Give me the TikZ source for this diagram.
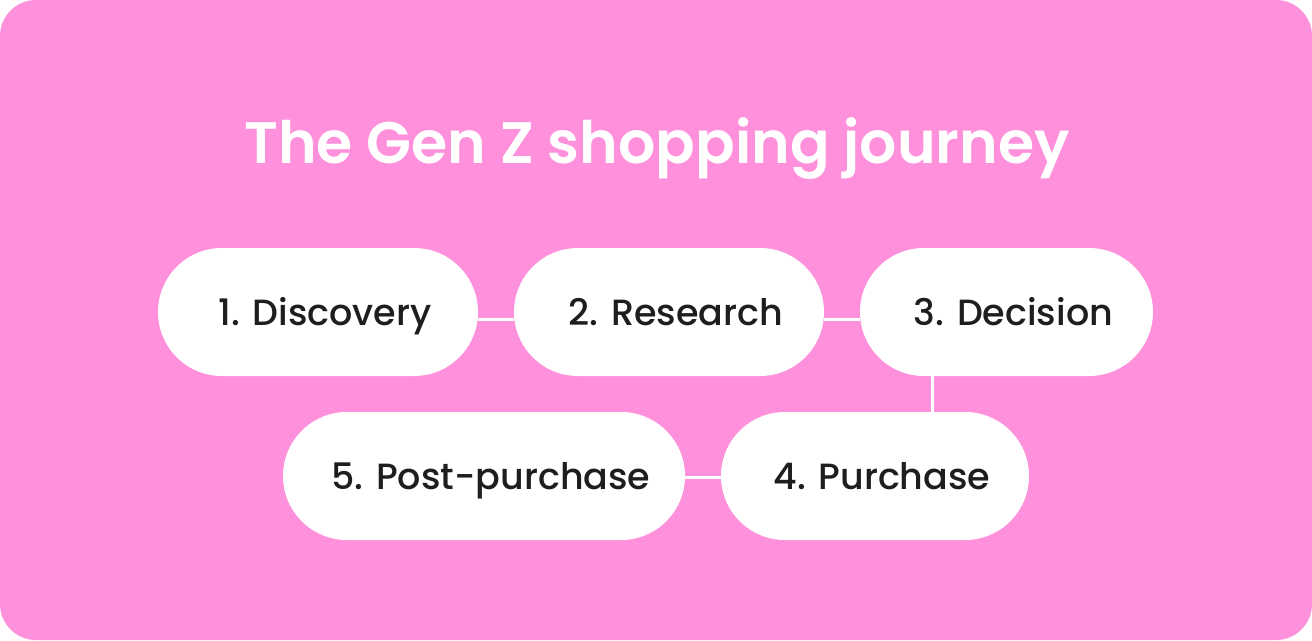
\documentclass[tikz,border=0pt]{standalone}
\usepackage{fontspec}
\setmainfont{Poppins}
\newfontfamily\nodefont{Poppins Medium}
\newfontfamily\titlefont{Poppins SemiBold}
\definecolor{bgpink}{HTML}{FF90DC}
\definecolor{ink}{HTML}{1E1E1E}
\begin{document}
\begin{tikzpicture}[x=1pt,y=1pt,
  pill/.style={fill=white, rounded corners=64pt, minimum height=128pt, inner sep=0pt,
    text height=27pt, text depth=0pt,
    text=ink, font=\nodefont\fontsize{36.5}{36.5}\selectfont},
  link/.style={draw=white, line width=3pt}]
\fill[white] (0,0) rectangle (1312,-640);
\useasboundingbox (0,0) rectangle (1312,-640);
\fill[bgpink, rounded corners=36pt] (0,0) rectangle (1312,-640);
\node[text=white, font=\titlefont\fontsize{58.5}{58.5}\selectfont, anchor=base] (title) at (657,-163) {The Gen Z shopping journey};
\node[pill, minimum width=320pt] (n1) at (318,-312) {\hspace*{14pt}1. Discovery};
\node[pill, minimum width=310pt] (n2) at (669,-312) {\hspace*{14pt}2. Research};
\node[pill, minimum width=293pt] (n3) at (1006.5,-312) {\hspace*{14pt}3. Decision};
\node[pill, minimum width=308pt] (n4) at (875,-476) {\hspace*{14pt}4. Purchase};
\node[pill, minimum width=402pt] (n5) at (484,-476) {\hspace*{14pt}5. Post-purchase};
\draw[link] ([yshift=-7.5pt]n1.east) -- ([yshift=-7.5pt]n2.west);
\draw[link] ([yshift=-7.5pt]n2.east) -- ([yshift=-7.5pt]n3.west);
\draw[link] (n3.south -| 932,0) -- (n4.north -| 932,0);
\draw[link] ([yshift=-1pt]n5.east) -- ([yshift=-1pt]n4.west);
\end{tikzpicture}
\end{document}
